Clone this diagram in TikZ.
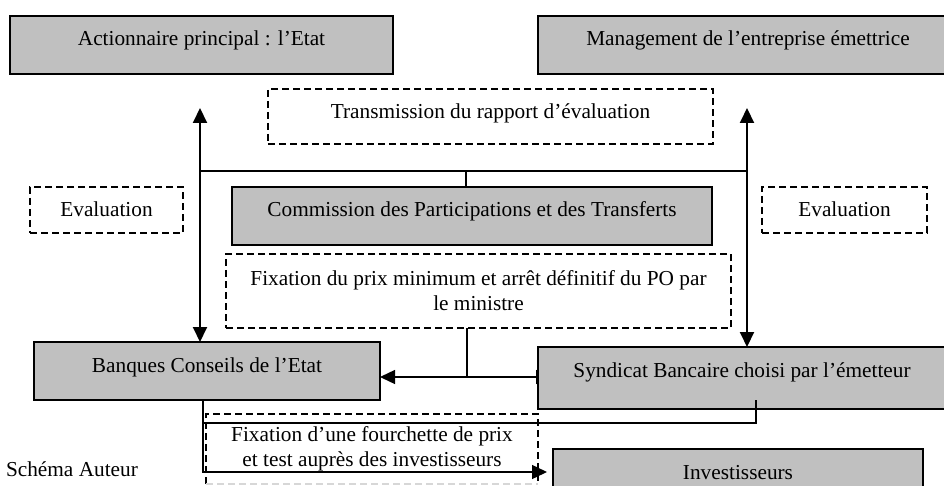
\documentclass[tikz,border=0pt]{standalone}
\usepackage{fontspec}
\setmainfont{Liberation Serif}
\usetikzlibrary{arrows.meta}
\definecolor{boxgray}{RGB}{192,192,192}
\definecolor{fadegray}{RGB}{215,215,215}
\pgfdeclarelayer{bg}
\pgfsetlayers{bg,main}
\begin{document}
\begin{tikzpicture}[x=1pt,y=-1pt,
  every node/.style={font=\fontsize{21.3}{25}\selectfont, inner sep=0pt, outer sep=0pt},
  gbox/.style={draw, line width=1.6pt, fill=boxgray, anchor=north west, text height=30pt},
  dbox/.style={draw, line width=1.3pt, dash pattern=on 7pt off 4pt, anchor=north west},
  dline/.style={line width=1.3pt, dash pattern=on 7pt off 4pt},
  conn/.style={line width=1.4pt},
  vconn/.style={line width=2pt},
  tipa/.style={-{Triangle[length=15pt,width=14pt]}},
  tipb/.style={{Triangle[length=15pt,width=14pt]}-{Triangle[length=15pt,width=14pt]}}
]
\useasboundingbox (0,0) rectangle (944,486);

% grey boxes
\node[gbox, minimum width=383pt, text depth=28pt] (act) at (10,16) {Actionnaire principal : l’Etat};
\node[gbox, minimum width=420pt, text depth=28pt] (man) at (538,16) {Management de l’entreprise émettrice};
\node[gbox, minimum width=480pt, text depth=28pt] (com) at (232,187) {Commission des Participations et des Transferts};
\node[gbox, minimum width=346pt, text depth=28pt] (ban) at (34,342) {Banques Conseils de l’Etat};
\node[gbox, minimum width=408pt, text depth=32pt] (syn) at (538,347) {Syndicat Bancaire choisi par l’émetteur};
\node[gbox, minimum width=370pt, text depth=20pt] (inv) at (553,449) {Investisseurs};

% dashed boxes
\node[dbox, minimum width=445pt, text height=30pt, text depth=25pt] (trans) at (268,89) {Transmission du rapport d’évaluation};
\node[dbox, minimum width=153pt, text height=30pt, text depth=16pt] (evl) at (30,187) {Evaluation};
\node[dbox, minimum width=165pt, text height=30pt, text depth=16pt] (evr) at (762,187) {Evaluation};
\node[dbox, minimum width=505pt, minimum height=74pt, align=center] (fpo) at (226,254) {Fixation du prix minimum et arrêt définitif du PO par\\le ministre};
\node[anchor=north west, minimum width=332pt, minimum height=70pt, align=center] (fou) at (206,414) {Fixation d’une fourchette de prix\\et test auprès des investisseurs};
\draw[dline] (fou.south west) -- (fou.north west) -- (fou.north east) -- (fou.south east);
\draw[dline, draw=fadegray] (fou.south west) -- (fou.south east);

\node[anchor=west] (aut) at (6,469) {Schéma Auteur};

% coordinates
\coordinate (ltop) at (200,108);
\coordinate (rtop) at (747,108);
\coordinate (hl) at (200,171);
\coordinate (hr) at (747,171);
\coordinate (hm) at (466,171);
\coordinate (jm) at (467,377);
\coordinate (sb) at (756,400);
\coordinate (sc) at (756,423);
\coordinate (bc) at (203,423);
\coordinate (bb) at (203,472);

\begin{pgfonlayer}{bg}
\draw[vconn, tipb] (ltop) -- (ban.north -| ltop);
\draw[vconn, tipb] (rtop) -- (syn.north -| rtop);
\draw[conn] (hl) -- (hr);
\draw[conn] (hm) -- (com.north -| hm);
\draw[conn] (fpo.south -| jm) -- (jm);
\draw[conn, tipa] (jm) -- (ban.east |- jm);
\draw[conn, tipa, shorten >=-13pt] (jm) -- (syn.west |- jm);
\draw[conn, tipa, shorten >=6pt] (ban.south -| bb) -- (bb) -- (inv.west |- bb);
\end{pgfonlayer}
\draw[conn] (sb) -- (sc) -- (bc);
\end{tikzpicture}
\end{document}
